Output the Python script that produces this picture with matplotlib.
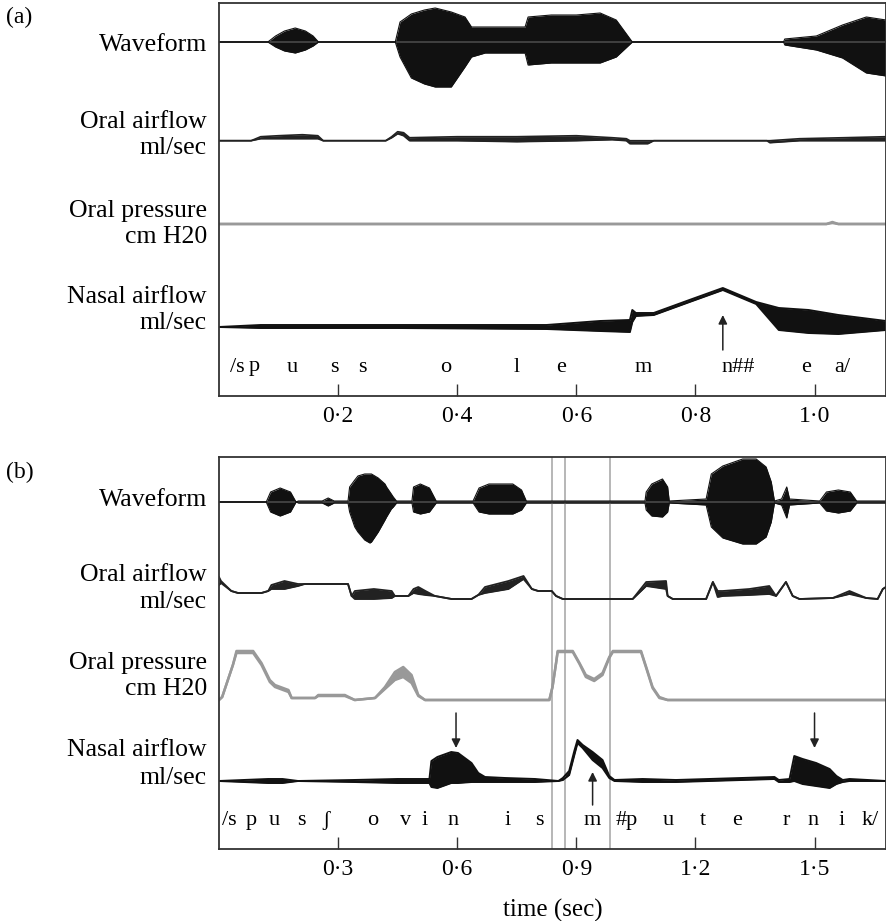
import numpy as np
import matplotlib
matplotlib.use('Agg')
from matplotlib import pyplot as plt

plt.rcParams['font.family'] = ['Liberation Serif', 'DejaVu Serif']

# ---------------- panel (a) : /spuss olem n## ea/ ----------------
# waveform envelope (upper / lower amplitude)
wa_t = [0, 0.082, 0.095, 0.11, 0.128, 0.145, 0.158, 0.167, 0.296, 0.304, 0.323, 0.345, 0.363,
        0.39, 0.413, 0.424, 0.447, 0.514, 0.519, 0.558, 0.60, 0.64, 0.667, 0.694, 0.948, 0.95,
        1.003, 1.047, 1.087, 1.12]
wa_hi = [0, 0, 6, 11, 14, 11, 6, 0, 0, 20, 28, 32, 34, 30, 25, 15, 15, 15, 25, 27, 27, 29, 22,
         0, 0, 3, 6, 17, 25, 22]
wa_lo = [0, 0, -5, -9, -11, -8, -4, 0, 0, -15, -36, -42, -45, -45, -25, -15, -11, -11, -23,
         -21, -21, -21, -15, 0, 0, -3, -8, -16, -31, -34]

# oral airflow
oa_t = [0, 0.054, 0.07, 0.10, 0.14, 0.166, 0.175, 0.28, 0.29, 0.30, 0.31, 0.32, 0.40, 0.50,
        0.60, 0.66, 0.684, 0.69, 0.72, 0.73, 0.80, 0.92, 0.925, 0.975, 1.05, 1.12]
oa_hi = [0, 0, 4, 5, 6, 5, 0, 0, 4, 9, 8, 3, 4, 4, 5, 3, 2, 0, 0, 0, 0, 0, 0, 2, 3, 4]
oa_lo = [0, 0, 2, 2, 2, 2, 0, 0, 3, 7, 5, 0, 0, -1, 0, 1, 0, -3, -3, 0, 0, 0, -2, 0, 0, 0]

# oral pressure
pa_t = [0, 1.02, 1.03, 1.04, 1.12]
pa_hi = [0, 0, 2, 0, 0]
pa_lo = [0, 0, 1, 0, 0]

# nasal airflow
na_t = [0, 0.07, 0.30, 0.55, 0.64, 0.69, 0.694, 0.70, 0.73, 0.79, 0.846, 0.902, 0.94, 0.99,
        1.04, 1.12]
na_hi = [0, 2, 2, 2, 6, 7, 17, 14, 14, 27, 39, 25, 19, 17, 12, 6]
na_lo = [0, -1, -1, -2, -4, -5, 5, 11, 12, 25, 37, 23, -3, -6, -7, -3]

ph_a = ['/s', 'p', 'u', 's', 's', 'o', 'l', 'e', 'm', 'n##', 'e', 'a/']
ph_a_t = [0.03, 0.059, 0.123, 0.193, 0.24, 0.38, 0.499, 0.575, 0.713, 0.872, 0.985, 1.047]
ticks_a = [0.2, 0.4, 0.6, 0.8, 1.0]
ticklab_a = ['0·2', '0·4', '0·6', '0·8', '1·0']
arrows_a = [0.846]

# ---------------- panel (b) : /spusʃ ovinis m#puternik/ ----------------
wb_t = [0, 0.119, 0.13, 0.154, 0.18, 0.194, 0.20, 0.26, 0.275, 0.29, 0.325, 0.329, 0.342, 0.350,
        0.367, 0.380, 0.384, 0.401, 0.418, 0.422, 0.434, 0.439, 0.447, 0.476, 0.486, 0.49, 0.507,
        0.53, 0.547, 0.64, 0.655, 0.68, 0.74, 0.762, 0.774, 1.06, 1.073, 1.076, 1.09, 1.117,
        1.13, 1.134, 1.227, 1.24, 1.269, 1.319, 1.353, 1.378, 1.391, 1.399, 1.417, 1.43, 1.437,
        1.513, 1.53, 1.56, 1.59, 1.606, 1.68]
wb_hi = [0, 0, 10, 14, 10, 0, 1, 1, 4, 1, 1, 15, 22, 26, 28, 28, 28, 24, 18, 15, 8, 5, 1, 1, 1,
         15, 18, 14, 1, 1, 14, 18, 18, 12, 1, 1, 1, 10, 18, 23, 15, 1, 3, 28, 36, 43, 43, 35, 20,
         1, 3, 15, 3, 1, 10, 12, 10, 1, 1]
wb_lo = [0, 0, -10, -14, -10, 0, -1, -1, -4, -1, -1, -10, -25, -30, -38, -41, -40, -30, -18,
         -15, -7, -5, -1, -1, -1, -10, -12, -10, -1, -1, -10, -12, -12, -8, -1, -1, -1, -8, -14,
         -15, -10, -1, -3, -25, -36, -42, -42, -35, -20, -1, -3, -16, -3, -1, -9, -11, -9, -1, -1]

ob_t = [0, 0.005, 0.031, 0.048, 0.107, 0.124, 0.132, 0.165, 0.199, 0.216, 0.325, 0.334, 0.342,
        0.39, 0.435, 0.443, 0.477, 0.49, 0.502, 0.52, 0.544, 0.586, 0.636, 0.653, 0.670, 0.729,
        0.767, 0.788, 0.804, 0.838, 0.849, 0.866, 1.042, 1.076, 1.126, 1.130, 1.143, 1.227,
        1.244, 1.256, 1.269, 1.336, 1.386, 1.403, 1.428, 1.445, 1.462, 1.546, 1.588, 1.630,
        1.659, 1.672, 1.68]
ob_hi = [22, 18, 8, 6, 6, 8, 14, 18, 15, 15, 15, 3, 8, 10, 8, 3, 3, 10, 12, 8, 3, 0, 0, 4, 12,
         18, 23, 10, 8, 8, 3, 0, 0, 17, 18, 3, 0, 0, 17, 8, 8, 10, 13, 3, 17, 3, 0, 1, 8, 1, 0,
         10, 12]
ob_lo = [14, 16, 8, 6, 6, 8, 10, 10, 13, 15, 15, 3, 0, 0, 1, 3, 3, 6, 5, 4, 3, 0, 0, 4, 6, 10,
         20, 10, 8, 8, 3, 0, 0, 13, 10, 3, 0, 0, 17, 2, 3, 4, 5, 3, 17, 3, 0, 1, 5, 1, 0, 10, 12]

pb_t = [0, 0.008, 0.035, 0.044, 0.086, 0.107, 0.128, 0.141, 0.175, 0.183, 0.242, 0.250, 0.317,
        0.342, 0.393, 0.418, 0.443, 0.464, 0.485, 0.502, 0.519, 0.832, 0.840, 0.849, 0.853,
        0.891, 0.908, 0.924, 0.945, 0.966, 0.983, 0.992, 1.063, 1.076, 1.092, 1.109, 1.130, 1.68]
pb_hi = [0, 3, 35, 49, 49, 37, 20, 15, 10, 2, 2, 5, 5, 0, 2, 13, 28, 33, 25, 5, 0, 0, 13, 37,
         49, 49, 37, 25, 21, 27, 43, 49, 49, 33, 13, 3, 0, 0]
pb_lo = [0, 3, 35, 47, 47, 35, 18, 13, 8, 2, 2, 4, 4, 0, 2, 11, 20, 23, 17, 4, 0, 0, 13, 37,
         48, 48, 36, 23, 19, 25, 42, 48, 48, 32, 12, 2, 0, 0]

nb_t = [0, 0.124, 0.16, 0.199, 0.34, 0.45, 0.53, 0.535, 0.55, 0.585, 0.602, 0.636, 0.653, 0.670,
        0.72, 0.796, 0.855, 0.866, 0.882, 0.895, 0.903, 0.916, 0.941, 0.966, 0.983, 0.996,
        1.067, 1.151, 1.399, 1.41, 1.437, 1.449, 1.470, 1.504, 1.538, 1.555, 1.571, 1.588, 1.68]
nb_hi = [0, 2, 2, 0, 1, 2, 2, 20, 24, 29, 28, 18, 8, 4, 3, 2, 0, 3, 10, 30, 41, 36, 29, 21, 5,
         1, 2, 1, 4, 1, 2, 25, 22, 18, 12, 5, 1, 2, 0]
nb_lo = [0, -2, -2, 0, -1, -2, -2, -6, -7, -2, -2, -1, -1, -1, -1, -1, 0, 1, 6, 26, 38, 33, 21,
         13, 3, 0, -1, -1, 2, -1, -1, 0, -3, -5, -7, -3, -1, 0, 0]

ph_b = ['/s', 'p', 'u', 's', 'ʃ', 'o', 'v', 'i', 'n', 'i', 's', 'm', '#p', 'u', 't', 'e', 'r',
        'n', 'i', 'k/']
ph_b_t = [0.025, 0.081, 0.139, 0.207, 0.270, 0.386, 0.471, 0.517, 0.590, 0.726, 0.807, 0.940,
          1.026, 1.132, 1.220, 1.306, 1.429, 1.495, 1.568, 1.639]
ticks_b = [0.3, 0.6, 0.9, 1.2, 1.5]
ticklab_b = ['0·3', '0·6', '0·9', '1·2', '1·5']
vlines_b = [0.839, 0.872, 0.986]
arrows_b_down = [0.597, 1.5]
arrows_b_up = [0.941]

trace_names = [['Waveform'], ['Oral airflow', 'ml/sec'], ['Oral pressure', 'cm H20'],
               ['Nasal airflow', 'ml/sec']]

W, H = 887, 921
fig = plt.figure(figsize=(W / 100, H / 100), dpi=100)


def px_axes(x0, y0, x1, y1):
    return fig.add_axes([x0 / W, 1 - y1 / H, (x1 - x0) / W, (y1 - y0) / H])


def trace(ax, t, hi, lo, base, color, lw=1.3, fill=True):
    t = np.array(t)
    hi = base + np.array(hi, float)
    lo = base + np.array(lo, float)
    if fill:
        ax.fill_between(t, lo, hi, color=color, lw=0)
    ax.plot(t, hi, color=color, lw=lw, solid_joinstyle='round')
    ax.plot(t, lo, color=color, lw=lw, solid_joinstyle='round')


def style(ax, xmax, height, ticks, labels):
    ax.set_xlim(0, xmax)
    ax.set_ylim(0, height)
    ax.set_yticks([])
    ax.set_xticks(ticks)
    ax.set_xticklabels(labels, fontsize=17)
    ax.tick_params(axis='x', direction='in', length=9, width=1, pad=7, color='#333333')
    for s in ax.spines.values():
        s.set_linewidth(1.3)
        s.set_color('#333333')


def arrow(ax, x, y0, y1):
    ax.annotate('', xy=(x, y1), xytext=(x, y0),
                arrowprops=dict(arrowstyle='-|>', color='#222222', lw=1.1,
                                mutation_scale=13, shrinkA=0, shrinkB=0))


# panel (a)
axa = px_axes(219, 3, 886, 396)
style(axa, 1.12, 393, ticks_a, ticklab_a)
axa.axhline(354, color='#444444', lw=1.3)
trace(axa, wa_t, wa_hi, wa_lo, 354, '#111111', lw=0.8)
trace(axa, oa_t, oa_hi, oa_lo, 255.3, '#222222', lw=1.2)
trace(axa, pa_t, pa_hi, pa_lo, 172, '#999999', lw=1.8)
trace(axa, na_t, na_hi, na_lo, 69, '#111111', lw=1.4)
for s, x in zip(ph_a, ph_a_t):
    axa.text(x, 29, s, ha='center', va='center', fontsize=16)
for x in arrows_a:
    arrow(axa, x, 46, 81)

# panel (b)
axb = px_axes(219, 456.7, 886, 849)
style(axb, 1.68, 392.3, ticks_b, ticklab_b)
for x in vlines_b:
    axb.axvline(x, color='#aaaaaa', lw=1.2)
axb.axhline(347, color='#444444', lw=1.3)
trace(axb, wb_t, wb_hi, wb_lo, 347, '#111111', lw=0.8)
trace(axb, ob_t, ob_hi, ob_lo, 250, '#222222', lw=1.3)
trace(axb, pb_t, pb_hi, pb_lo, 149, '#999999', lw=1.8)
trace(axb, nb_t, nb_hi, nb_lo, 68, '#111111', lw=1.4)
for s, x in zip(ph_b, ph_b_t):
    axb.text(x, 29, s, ha='center', va='center', fontsize=16)
for x in arrows_b_down:
    arrow(axb, x, 136, 101)
for x in arrows_b_up:
    arrow(axb, x, 44, 77)
axb.set_xlabel('time (sec)', fontsize=18, labelpad=14)

# left-hand labels
label_y = {'a': [[45], [122, 148], [211, 237], [297, 323]],
           'b': [[500], [575, 602], [663, 689], [750, 778]]}
for key in ['a', 'b']:
    for names, ys in zip(trace_names, label_y[key]):
        for s, y in zip(names, ys):
            fig.text(207 / W, 1 - y / H, s, ha='right', va='center', fontsize=18.5)
fig.text(6 / W, 1 - 17 / H, '(a)', ha='left', va='center', fontsize=17)
fig.text(6 / W, 1 - 472 / H, '(b)', ha='left', va='center', fontsize=17)

fig.savefig('out.png', dpi=100)
